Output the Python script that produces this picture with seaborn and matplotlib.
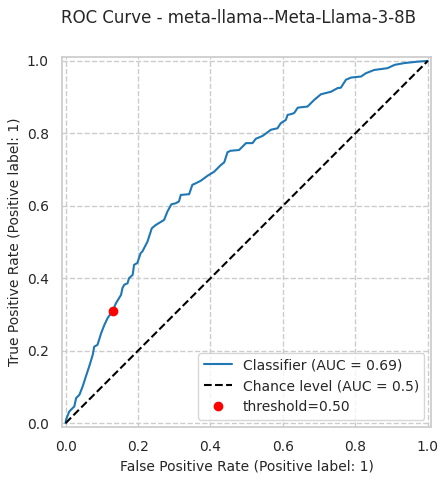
import numpy as np
import pandas as pd
import matplotlib
matplotlib.use("Agg")
import matplotlib.pyplot as plt
import seaborn as sns

# ROC points
fpr = [0.0, 0.001, 0.010, 0.024, 0.029, 0.038, 0.047, 0.056, 0.065, 0.075,
       0.079, 0.088, 0.098, 0.107, 0.116, 0.130, 0.139, 0.153, 0.157, 0.162,
       0.171, 0.175, 0.185, 0.189, 0.198, 0.207, 0.212, 0.226, 0.238, 0.249,
       0.272, 0.281, 0.292, 0.304, 0.313, 0.318, 0.341, 0.350, 0.355, 0.373,
       0.392, 0.410, 0.429, 0.438, 0.447, 0.456, 0.479, 0.488, 0.498, 0.516,
       0.525, 0.544, 0.567, 0.585, 0.594, 0.608, 0.613, 0.622, 0.631, 0.641,
       0.668, 0.686, 0.705, 0.733, 0.751, 0.760, 0.774, 0.788, 0.816, 0.829,
       0.852, 0.889, 0.908, 0.935, 0.972, 1.0]
tpr = [0.0, 0.009, 0.032, 0.046, 0.069, 0.078, 0.101, 0.129, 0.156, 0.189,
       0.211, 0.216, 0.248, 0.271, 0.290, 0.310, 0.331, 0.354, 0.373, 0.382,
       0.386, 0.400, 0.409, 0.437, 0.442, 0.469, 0.474, 0.501, 0.538, 0.547,
       0.561, 0.584, 0.604, 0.607, 0.612, 0.630, 0.632, 0.658, 0.660, 0.669,
       0.683, 0.694, 0.713, 0.720, 0.748, 0.752, 0.754, 0.763, 0.773, 0.773,
       0.785, 0.793, 0.810, 0.814, 0.828, 0.837, 0.851, 0.853, 0.856, 0.871,
       0.874, 0.892, 0.908, 0.915, 0.925, 0.926, 0.948, 0.954, 0.957, 0.966,
       0.975, 0.980, 0.989, 0.994, 0.998, 1.0]
chance_x = [0.0, 1.0]
chance_y = [0.0, 1.0]
thr_fpr = [0.130]
thr_tpr = [0.310]

model_name = "meta-llama--Meta-Llama-3-8B"
roc_auc = 0.69

sns.set_theme(style="whitegrid", rc={"grid.linestyle": "--"})
plt.rcParams["font.family"] = ["DejaVu Sans"]

fig = plt.figure(figsize=(4.48, 4.8), dpi=100)
ax = fig.add_axes([61.7 / 448, 1 - 426.7 / 480, 370 / 448, 369.4 / 480])

roc = pd.DataFrame({"fpr": fpr, "tpr": tpr})
sns.lineplot(data=roc, x="fpr", y="tpr", sort=False, estimator=None,
             color="#1f77b4", linewidth=1.5, ax=ax,
             label=f"Classifier (AUC = {roc_auc:.2f})")
sns.lineplot(x=chance_x, y=chance_y, color="black", linestyle="--",
             linewidth=1.5, ax=ax, label="Chance level (AUC = 0.5)")
ax.plot(thr_fpr, thr_tpr, "o", color="red", markersize=6, label="threshold=0.50")

ax.set_xlim(-0.01, 1.01)
ax.set_ylim(-0.01, 1.01)
ax.set_aspect("equal", adjustable="box")
ax.set_xticks(np.arange(0, 1.01, 0.2))
ax.set_yticks(np.arange(0, 1.01, 0.2))
ax.tick_params(labelsize=10)
ax.set_xlabel("False Positive Rate (Positive label: 1)", fontsize=10)
ax.set_ylabel("True Positive Rate (Positive label: 1)", fontsize=10)
ax.legend(loc="lower right", fontsize=10)

fig.suptitle(f"ROC Curve - {model_name}", x=238 / 448, y=1 - 18 / 480,
             va="center", fontsize=12)

fig.savefig("out.png", dpi=100)
